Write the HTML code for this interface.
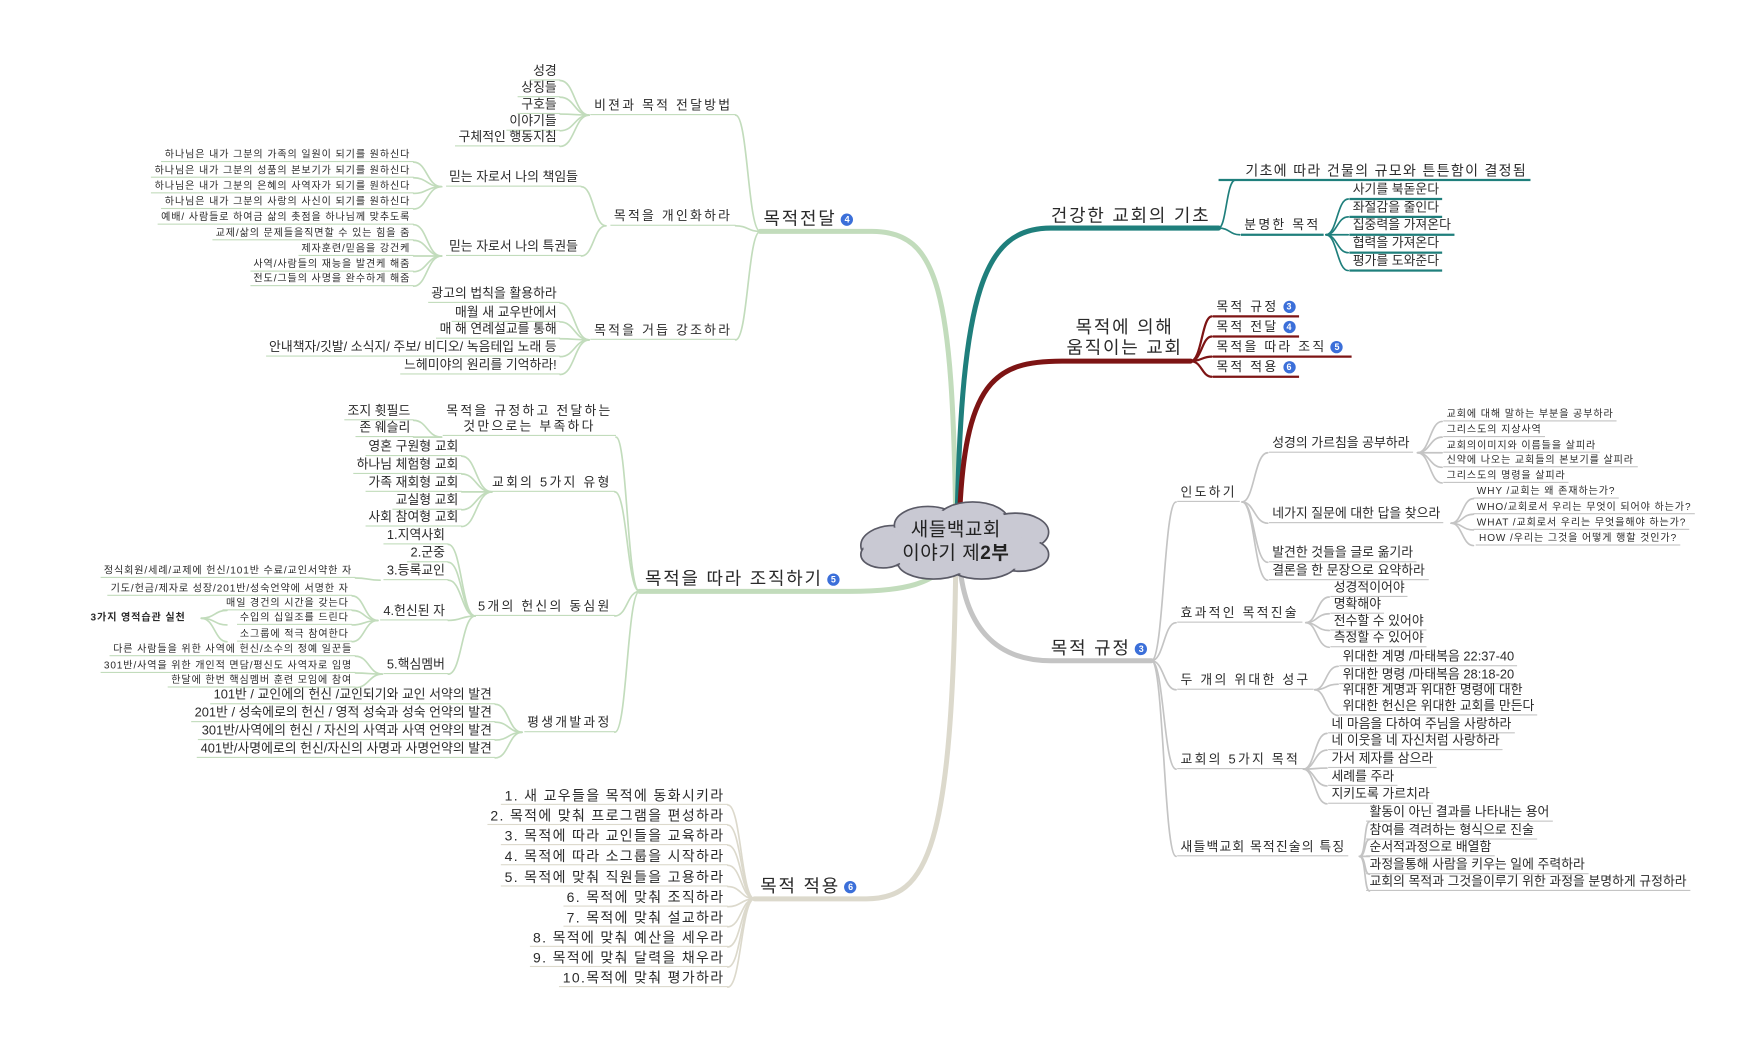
<!DOCTYPE html>
<html><head><meta charset="utf-8">
<style>
html,body{margin:0;padding:0;background:#fff;}
body{width:1744px;height:1051px;overflow:hidden;position:relative;}
#w{position:absolute;left:0;top:0;width:1560px;height:940px;transform:scale(1.11795);transform-origin:0 0;font-family:"Liberation Sans","Noto Sans CJK KR",sans-serif;color:#2a2a2a;}
svg{position:absolute;left:0;top:0;}
.n{position:absolute;white-space:nowrap;font-size:11.5px;line-height:14px;padding:0 3px;border-bottom:1.5px solid #c2dcbc;}
.s{font-size:9px;line-height:11px;letter-spacing:0.8px;}
.c{font-size:12.5px;letter-spacing:1.2px;}
.sp{letter-spacing:2px;}
.L{position:absolute;white-space:nowrap;font-size:16px;line-height:18px;letter-spacing:1.6px;}
.g{border-color:#c2dcbc}.b{border-color:#dcd9cc}.t{border-color:#1f7f7c;border-bottom-width:2px}.r{border-color:#7d1414;border-bottom-width:2px}.k{border-color:#c4c4c4}
.bd{display:inline-block;width:11px;height:11px;border-radius:50%;background:#3b6fd9;color:#fff;font-size:8px;line-height:11px;text-align:center;font-weight:bold;vertical-align:middle;margin-left:4px;letter-spacing:0;}
.ctr{text-align:center}
</style></head><body><div id="w">
<svg width="1560" height="940" fill="none" stroke-linecap="round">
<path d="M855 470 C852 260 840 207 780 207 L680 207" stroke="#c2dcbc" stroke-width="4.5"/>
<path d="M852 492 C845 525 800 529 760 529 L572 529" stroke="#c2dcbc" stroke-width="4.5"/>
<path d="M855 500 C852 760 830 804 775 804 L675 804" stroke="#dcd9cc" stroke-width="4.5"/>
<path d="M856 470 C860 260 880 204 940 204 L1090 204" stroke="#1f7f7c" stroke-width="4.5"/>
<path d="M858 470 C862 340 890 323 950 323 L1065 323" stroke="#7d1414" stroke-width="4.5"/>
<path d="M858 500 C862 560 890 591 940 591 L1030 591" stroke="#c4c4c4" stroke-width="4.5"/>
<g stroke="#c2dcbc" stroke-width="1.5">
<path d="M680 207 C669 207 669 103 658 103"/><path d="M680 207 C669 207 669 202 658 202"/><path d="M680 207 C669 207 669 304 658 304"/>
<path d="M527 103 C514 103 514 72 501 72"/><path d="M527 103 C514 103 514 87 501 87"/><path d="M527 103 C514 103 514 102 501 102"/><path d="M527 103 C514 103 514 117 501 117"/><path d="M527 103 C514 103 514 131 501 131"/>
<path d="M542 202 C531 202 531 167 520 167"/><path d="M542 202 C531 202 531 229 520 229"/>
<path d="M395 167 C382 167 382 145 370 145"/><path d="M395 167 C382 167 382 159 370 159"/><path d="M395 167 C382 167 382 173 370 173"/><path d="M395 167 C382 167 382 187 370 187"/>
<path d="M395 229 C382 229 382 201 370 201"/><path d="M395 229 C382 229 382 215 370 215"/><path d="M395 229 C382 229 382 229 370 229"/><path d="M395 229 C382 229 382 243 370 243"/><path d="M395 229 C382 229 382 256 370 256"/>
<path d="M527 304 C514 304 514 271 501 271"/><path d="M527 304 C514 304 514 288 501 288"/><path d="M527 304 C514 304 514 303 501 303"/><path d="M527 304 C514 304 514 319 501 319"/><path d="M527 304 C514 304 514 335 501 335"/>
<path d="M572 529 C561 529 561 391 551 391"/><path d="M572 529 C561 529 561 440 550 440"/><path d="M572 529 C561 529 561 551 550 551"/><path d="M572 529 C561 529 561 655 550 655"/>
<path d="M395 391 C382 391 382 376 370 376"/><path d="M395 391 C382 391 382 391 370 391"/>
<path d="M440 440 C426 440 426 408 413 408"/><path d="M440 440 C426 440 426 424 413 424"/><path d="M440 440 C426 440 426 440 413 440"/><path d="M440 440 C426 440 426 456 413 456"/><path d="M440 440 C426 440 426 471 413 471"/>
<path d="M425 551 C413 551 413 487 401 487"/><path d="M425 551 C413 551 413 503 401 503"/><path d="M425 551 C413 551 413 519 401 519"/><path d="M425 551 C413 551 413 555 401 555"/><path d="M425 551 C413 551 413 603 401 603"/>
<path d="M340 519 C329 519 329 517 318 517"/>
<path d="M338 555 C326 555 326 533 315 533"/><path d="M338 555 C326 555 326 546 315 546"/><path d="M338 555 C326 555 326 559 315 559"/><path d="M338 555 C326 555 326 574 315 574"/>
<path d="M342 603 C330 603 330 587 318 587"/><path d="M342 603 C330 603 330 602 318 602"/><path d="M342 603 C330 603 330 615 318 615"/>
<path d="M180 553 C192 553 192 546 203 546"/><path d="M180 553 C192 553 192 559 203 559"/><path d="M180 553 C192 553 192 574 203 574"/>
<path d="M467 655 C455 655 455 630 443 630"/><path d="M467 655 C455 655 455 646 443 646"/><path d="M467 655 C455 655 455 662 443 662"/><path d="M467 655 C455 655 455 678 443 678"/>
</g>
<g stroke="#dcd9cc" stroke-width="1.5">
<path d="M675 804 C663 804 663 720 651 720"/><path d="M675 804 C663 804 663 738 651 738"/><path d="M675 804 C663 804 663 756 651 756"/><path d="M675 804 C663 804 663 774 651 774"/><path d="M675 804 C663 804 663 793 651 793"/><path d="M675 804 C663 804 663 811 651 811"/><path d="M675 804 C663 804 663 829 651 829"/><path d="M675 804 C663 804 663 847 651 847"/><path d="M675 804 C663 804 663 865 651 865"/><path d="M675 804 C663 804 663 883 651 883"/>
</g>
<g stroke="#1f7f7c" stroke-width="1.5">
<path d="M1090 204 C1097 204 1097 161 1105 161"/><path d="M1090 204 C1100 204 1100 210 1109 210"/>
<path d="M1186 210 C1196 210 1196 178 1206 178"/><path d="M1186 210 C1196 210 1196 194 1206 194"/><path d="M1186 210 C1196 210 1196 210 1206 210"/><path d="M1186 210 C1196 210 1196 226 1206 226"/><path d="M1186 210 C1196 210 1196 242 1206 242"/>
</g>
<g stroke="#7d1414" stroke-width="2">
<path d="M1065 323 C1075 323 1075 283 1084 283"/><path d="M1065 323 C1075 323 1075 301 1084 301"/><path d="M1065 323 C1075 323 1075 319 1084 319"/><path d="M1065 323 C1075 323 1075 337 1084 337"/>
</g>
<g stroke="#c4c4c4" stroke-width="1.5">
<path d="M1030 591 C1041 591 1041 449 1052 449"/><path d="M1030 591 C1041 591 1041 557 1052 557"/><path d="M1030 591 C1041 591 1041 617 1052 617"/><path d="M1030 591 C1041 591 1041 688 1052 688"/><path d="M1030 591 C1041 591 1041 766 1052 766"/>
<path d="M1111 449 C1122 449 1122 405 1134 405"/><path d="M1111 449 C1122 449 1122 468 1134 468"/><path d="M1111 449 C1122 449 1122 503 1134 503"/><path d="M1111 449 C1122 449 1122 519 1134 519"/>
<path d="M1268 405 C1279 405 1279 377 1290 377"/><path d="M1268 405 C1279 405 1279 391 1290 391"/><path d="M1268 405 C1279 405 1279 405 1290 405"/><path d="M1268 405 C1279 405 1279 418 1290 418"/><path d="M1268 405 C1279 405 1279 432 1290 432"/>
<path d="M1298 468 C1308 468 1308 446 1318 446"/><path d="M1298 468 C1308 468 1308 460 1318 460"/><path d="M1298 468 C1308 468 1308 474 1318 474"/><path d="M1298 468 C1308 468 1308 488 1318 488"/>
<path d="M1168 557 C1178 557 1178 534 1189 534"/><path d="M1168 557 C1178 557 1178 549 1189 549"/><path d="M1168 557 C1178 557 1178 564 1189 564"/><path d="M1168 557 C1178 557 1178 579 1189 579"/>
<path d="M1176 617 C1186 617 1186 596 1197 596"/><path d="M1176 617 C1186 617 1186 612 1197 612"/><path d="M1176 617 C1186 617 1186 640 1197 640"/>
<path d="M1166 688 C1176 688 1176 656 1187 656"/><path d="M1166 688 C1176 688 1176 671 1187 671"/><path d="M1166 688 C1176 688 1176 687 1187 687"/><path d="M1166 688 C1176 688 1176 703 1187 703"/><path d="M1166 688 C1176 688 1176 719 1187 719"/>
<path d="M1216 766 C1222 766 1220 735 1225 735"/><path d="M1216 766 C1222 766 1220 751 1225 751"/><path d="M1216 766 C1222 766 1222 766 1225 766"/><path d="M1216 766 C1222 766 1220 782 1225 782"/><path d="M1216 766 C1222 766 1220 797 1225 797"/>
</g>
<g fill="#c9c9d3" stroke="#5a5a66" stroke-width="1.5">
<ellipse cx="800" cy="488" rx="30" ry="18"/><ellipse cx="830" cy="470" rx="30" ry="17"/><ellipse cx="870" cy="466" rx="32" ry="17"/><ellipse cx="908" cy="476" rx="30" ry="17"/><ellipse cx="912" cy="496" rx="26" ry="15"/><ellipse cx="878" cy="503" rx="32" ry="15"/><ellipse cx="835" cy="503" rx="32" ry="15"/><ellipse cx="790" cy="496" rx="20" ry="12"/>
</g>
<g fill="#c9c9d3">
<ellipse cx="800" cy="488" rx="28" ry="16"/><ellipse cx="830" cy="470" rx="28" ry="15"/><ellipse cx="870" cy="466" rx="30" ry="15"/><ellipse cx="908" cy="476" rx="28" ry="15"/><ellipse cx="912" cy="496" rx="24" ry="13"/><ellipse cx="878" cy="503" rx="30" ry="13"/><ellipse cx="835" cy="503" rx="30" ry="13"/><ellipse cx="790" cy="496" rx="18" ry="10"/><ellipse cx="855" cy="485" rx="60" ry="20"/>
</g>
</svg>
<div class="L ctr" style="left:785px;top:463px;width:140px;font-size:17px;line-height:21px;color:#222;letter-spacing:0.5px">새들백교회<br>이야기 제<b>2부</b></div>

<div class="L" style="left:683px;top:188px">목적전달<span class="bd">4</span></div>
<div class="n g sp" style="right:902px;top:88px">비젼과 목적 전달방법</div>
<div class="n g" style="right:1059px;top:57px">성경</div>
<div class="n g" style="right:1059px;top:72px">상징들</div>
<div class="n g" style="right:1059px;top:87px">구호들</div>
<div class="n g" style="right:1059px;top:102px">이야기들</div>
<div class="n g" style="right:1059px;top:116px">구체적인 행동지침</div>
<div class="n g sp" style="right:902px;top:187px">목적을 개인화하라</div>
<div class="n g" style="right:1040px;top:152px">믿는 자로서 나의 책임들</div>
<div class="n g s" style="right:1190px;top:133px">하나님은 내가 그분의 가족의 일원이 되기를 원하신다</div>
<div class="n g s" style="right:1190px;top:147px">하나님은 내가 그분의 성품의 본보기가 되기를 원하신다</div>
<div class="n g s" style="right:1190px;top:161px">하나님은 내가 그분의 은혜의 사역자가 되기를 원하신다</div>
<div class="n g s" style="right:1190px;top:175px">하나님은 내가 그분의 사랑의 사신이 되기를 원하신다</div>
<div class="n g" style="right:1040px;top:214px">믿는 자로서 나의 특권들</div>
<div class="n g s" style="right:1190px;top:189px">예배/ 사람들로 하여금 삶의 촛점을 하나님께 맞추도록</div>
<div class="n g s" style="right:1190px;top:203px">교제/삶의 문제들을직면할 수 있는 힘을 줌</div>
<div class="n g s" style="right:1190px;top:217px">제자훈련/믿음을 강건케</div>
<div class="n g s" style="right:1190px;top:231px">사역/사람들의 재능을 발견케 해줌</div>
<div class="n g s" style="right:1190px;top:244px">전도/그들의 사명을 완수하게 해줌</div>
<div class="n g sp" style="right:902px;top:289px">목적을 거듭 강조하라</div>
<div class="n g" style="right:1059px;top:256px">광고의 법칙을 활용하라</div>
<div class="n g" style="right:1059px;top:273px">매월 새 교우반에서</div>
<div class="n g" style="right:1059px;top:288px">매 해 연례설교를 통해</div>
<div class="n g" style="right:1059px;top:304px">안내책자/깃발/ 소식지/ 주보/ 비디오/ 녹음테입 노래 등</div>
<div class="n g" style="right:1059px;top:320px">느헤미야의 원리를 기억하라!</div>

<div class="L" style="left:577px;top:510px">목적을 따라 조직하기<span class="bd">5</span></div>
<div class="n g ctr sp" style="right:1009px;top:361px">목적을 규정하고 전달하는<br>것만으로는 부족하다</div>
<div class="n g" style="right:1190px;top:361px">조지 휫필드</div>
<div class="n g" style="right:1190px;top:376px">존 웨슬리</div>
<div class="n g sp" style="right:1010px;top:425px">교회의 5가지 유형</div>
<div class="n g" style="right:1147px;top:393px">영혼 구원형 교회</div>
<div class="n g" style="right:1147px;top:409px">하나님 체험형 교회</div>
<div class="n g" style="right:1147px;top:425px">가족 재회형 교회</div>
<div class="n g" style="right:1147px;top:441px">교실형 교회</div>
<div class="n g" style="right:1147px;top:456px">사회 참여형 교회</div>
<div class="n g sp" style="right:1010px;top:536px">5개의 헌신의 동심원</div>
<div class="n g" style="right:1159px;top:472px">1.지역사회</div>
<div class="n g" style="right:1159px;top:488px">2.군중</div>
<div class="n g" style="right:1159px;top:504px">3.등록교인</div>
<div class="n g" style="right:1159px;top:540px">4.헌신된 자</div>
<div class="n g" style="right:1159px;top:588px">5.핵심멤버</div>
<div class="n g s" style="right:1242px;top:505px">정식회원/세례/교제에 헌신/101반 수료/교인서약한 자</div>
<div class="n g s" style="right:1245px;top:521px">기도/헌금/제자로 성장/201반/성숙언약에 서명한 자</div>
<div class="n g s" style="right:1245px;top:534px">매일 경건의 시간을 갖는다</div>
<div class="n g s" style="right:1245px;top:547px">수입의 십일조를 드린다</div>
<div class="n g s" style="right:1245px;top:562px">소그룹에 적극 참여한다</div>
<div class="n s" style="left:78px;top:547px;border:none;font-weight:bold">3가지 영적습관 실천</div>
<div class="n g s" style="right:1242px;top:575px">다른 사람들을 위한 사역에 헌신/소수의 정예 일꾼들</div>
<div class="n g s" style="right:1242px;top:590px">301반/사역을 위한 개인적 면담/평신도 사역자로 임명</div>
<div class="n g s" style="right:1242px;top:603px">한달에 한번 핵심멤버 훈련 모임에 참여</div>
<div class="n g sp" style="right:1010px;top:640px">평생개발과정</div>
<div class="n g" style="right:1117px;top:615px">101반 / 교인에의 헌신 /교인되기와 교인 서약의 발견</div>
<div class="n g" style="right:1117px;top:631px">201반 / 성숙에로의 헌신 / 영적 성숙과 성숙 언약의 발견</div>
<div class="n g" style="right:1117px;top:647px">301반/사역에의 헌신 / 자신의 사역과 사역 언약의 발견</div>
<div class="n g" style="right:1117px;top:663px">401반/사명에로의 헌신/자신의 사명과 사명언약의 발견</div>

<div class="L" style="left:680px;top:785px">목적 적용<span class="bd">6</span></div>
<div class="n b c" style="right:909px;top:705px">1. 새 교우들을 목적에 동화시키라</div>
<div class="n b c" style="right:909px;top:723px">2. 목적에 맞춰 프로그램을 편성하라</div>
<div class="n b c" style="right:909px;top:741px">3. 목적에 따라 교인들을 교육하라</div>
<div class="n b c" style="right:909px;top:759px">4. 목적에 따라 소그룹을 시작하라</div>
<div class="n b c" style="right:909px;top:778px">5. 목적에 맞춰 직원들을 고용하라</div>
<div class="n b c" style="right:909px;top:796px">6. 목적에 맞춰 조직하라</div>
<div class="n b c" style="right:909px;top:814px">7. 목적에 맞춰 설교하라</div>
<div class="n b c" style="right:909px;top:832px">8. 목적에 맞춰 예산을 세우라</div>
<div class="n b c" style="right:909px;top:850px">9. 목적에 맞춰 달력을 채우라</div>
<div class="n b c" style="right:909px;top:868px">10.목적에 맞춰 평가하라</div>

<div class="L" style="left:940px;top:185px">건강한 교회의 기초</div>
<div class="n t c" style="left:1090px;top:146px;padding-left:24px">기초에 따라 건물의 규모와 튼튼함이 결정됨</div>
<div class="n t sp" style="left:1110px;top:195px">분명한 목적</div>
<div class="n t" style="left:1207px;top:163px">사기를 북돋운다</div>
<div class="n t" style="left:1207px;top:179px">좌절감을 줄인다</div>
<div class="n t" style="left:1207px;top:195px">집중력을 가져온다</div>
<div class="n t" style="left:1207px;top:211px">협력을 가져온다</div>
<div class="n t" style="left:1207px;top:227px">평가를 도와준다</div>

<div class="L ctr" style="left:945px;top:285px;width:122px">목적에 의해<br>움직이는 교회</div>
<div class="n r sp" style="left:1085px;top:268px">목적 규정<span class="bd">3</span></div>
<div class="n r sp" style="left:1085px;top:286px">목적 전달<span class="bd">4</span></div>
<div class="n r sp" style="left:1085px;top:304px;padding-right:8px">목적을 따라 조직<span class="bd">5</span></div>
<div class="n r sp" style="left:1085px;top:322px">목적 적용<span class="bd">6</span></div>

<div class="L" style="left:940px;top:572px">목적 규정<span class="bd">3</span></div>
<div class="n k sp" style="left:1053px;top:434px">인도하기</div>
<div class="n k" style="left:1135px;top:390px">성경의 가르침을 공부하라</div>
<div class="n k s" style="left:1291px;top:365px">교회에 대해 말하는 부분을 공부하라</div>
<div class="n k s" style="left:1291px;top:379px">그리스도의 지상사역</div>
<div class="n k s" style="left:1291px;top:393px">교회의이미지와 이름들을 살피라</div>
<div class="n k s" style="left:1291px;top:406px">신약에 나오는 교회들의 본보기를 살피라</div>
<div class="n k s" style="left:1291px;top:420px">그리스도의 명령을 살피라</div>
<div class="n k" style="left:1135px;top:453px">네가지 질문에 대한 답을 찾으라</div>
<div class="n k s" style="left:1318px;top:434px">WHY /교회는 왜 존재하는가?</div>
<div class="n k s" style="left:1318px;top:448px">WHO/교회로서 우리는 무엇이 되어야 하는가?</div>
<div class="n k s" style="left:1318px;top:462px">WHAT /교회로서 우리는 무엇을해야 하는가?</div>
<div class="n k s" style="left:1320px;top:476px">HOW /우리는 그것을 어떻게 행할 것인가?</div>
<div class="n k" style="left:1135px;top:488px">발견한 것들을 글로 옮기라</div>
<div class="n k" style="left:1135px;top:504px">결론을 한 문장으로 요약하라</div>
<div class="n k sp" style="left:1053px;top:542px">효과적인 목적진술</div>
<div class="n k" style="left:1190px;top:519px">성경적이어야</div>
<div class="n k" style="left:1190px;top:534px">명확해야</div>
<div class="n k" style="left:1190px;top:549px">전수할 수 있어야</div>
<div class="n k" style="left:1190px;top:564px">측정할 수 있어야</div>
<div class="n k sp" style="left:1053px;top:602px">두 개의 위대한 성구</div>
<div class="n k" style="left:1198px;top:581px">위대한 계명 /마태복음 22:37-40</div>
<div class="n k" style="left:1198px;top:597px">위대한 명령 /마태복음 28:18-20</div>
<div class="n k" style="left:1198px;top:611px">위대한 계명과 위대한 명령에 대한<br>위대한 헌신은 위대한 교회를 만든다</div>
<div class="n k sp" style="left:1053px;top:673px">교회의 5가지 목적</div>
<div class="n k" style="left:1188px;top:641px">네 마음을 다하여 주님을 사랑하라</div>
<div class="n k" style="left:1188px;top:656px">네 이웃을 네 자신처럼 사랑하라</div>
<div class="n k" style="left:1188px;top:672px">가서 제자를 삼으라</div>
<div class="n k" style="left:1188px;top:688px">세례를 주라</div>
<div class="n k" style="left:1188px;top:704px">지키도록 가르치라</div>
<div class="n k sp" style="left:1053px;top:751px;letter-spacing:1px">새들백교회 목적진술의 특징</div>
<div class="n k" style="left:1222px;top:720px">활동이 아닌 결과를 나타내는 용어</div>
<div class="n k" style="left:1222px;top:736px">참여를 격려하는 형식으로 진술</div>
<div class="n k" style="left:1222px;top:751px">순서적과정으로 배열함</div>
<div class="n k" style="left:1222px;top:767px">과정을통해 사람을 키우는 일에 주력하라</div>
<div class="n k" style="left:1222px;top:782px">교회의 목적과 그것을이루기 위한 과정을 분명하게 규정하라</div>
</div></body></html>
